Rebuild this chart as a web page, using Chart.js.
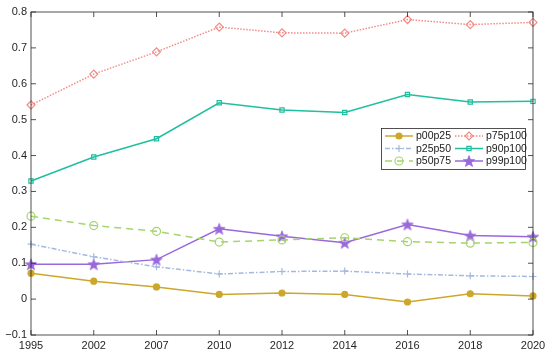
<!DOCTYPE html>
<html>
<head>
<meta charset="utf-8">
<script src="https://cdn.jsdelivr.net/npm/chart.js@4/dist/chart.umd.min.js"></script>
<style>
  body { margin: 0; background: #fff; }
  #wrap { width: 550px; height: 358px; }
</style>
</head>
<body>
<div id="wrap"><canvas id="myChart"></canvas></div>
<script>
var years = ["1995", "2002", "2007", "2010", "2012", "2014", "2016", "2018", "2020"];
var p00p25 = [0.072, 0.050, 0.034, 0.013, 0.017, 0.013, -0.008, 0.015, 0.009];
var p25p50 = [0.153, 0.118, 0.090, 0.070, 0.077, 0.078, 0.070, 0.065, 0.063];
var p50p75 = [0.231, 0.205, 0.189, 0.159, 0.165, 0.171, 0.160, 0.156, 0.158];
var p75p100 = [0.541, 0.627, 0.689, 0.758, 0.742, 0.741, 0.779, 0.765, 0.771];
var p90p100 = [0.329, 0.396, 0.447, 0.547, 0.527, 0.520, 0.570, 0.549, 0.551];
var p99p100 = [0.097, 0.097, 0.110, 0.196, 0.175, 0.157, 0.208, 0.177, 0.174];
var yTicks = [-0.1, 0, 0.1, 0.2, 0.3, 0.4, 0.5, 0.6, 0.7, 0.8];

var font = "'Liberation Sans', Arial, sans-serif";

// filled 5-point star used as a marker (Chart.js 'star' is an asterisk)
function makeStar(color, r) {
  var c = document.createElement('canvas');
  var s = Math.ceil(r * 2 + 2);
  c.width = s; c.height = s;
  var g = c.getContext('2d');
  g.fillStyle = color;
  g.strokeStyle = color;
  g.lineWidth = 0.8;
  g.beginPath();
  for (var i = 0; i < 10; i++) {
    var rr = i % 2 === 0 ? r : r * 0.42;
    var ang = -Math.PI / 2 + i * Math.PI / 5;
    var px = s / 2 + rr * Math.cos(ang), py = s / 2 + 0.6 + rr * Math.sin(ang);
    if (i === 0) g.moveTo(px, py); else g.lineTo(px, py);
  }
  g.closePath();
  g.fill();
  g.stroke();
  return c;
}

function series(label, data, color, style, dash, fill, radius) {
  return {
    label: label,
    data: data,
    borderColor: color,
    backgroundColor: fill ? color : 'rgba(255,255,255,0)',
    borderWidth: 1.5,
    borderDash: dash,
    pointStyle: style,
    pointRadius: radius,
    pointBorderColor: color,
    pointBackgroundColor: fill ? color : 'rgba(255,255,255,0)',
    pointBorderWidth: 1.2,
    tension: 0
  };
}

// box around plot, inward ticks, legend in the top right of the plot
var matlabBox = {
  id: 'matlabBox',
  afterDraw: function(chart) {
    var ctx = chart.ctx, a = chart.chartArea;
    var xs = chart.scales.x, ys = chart.scales.y;
    ctx.save();
    ctx.strokeStyle = '#262626';
    ctx.lineWidth = 0.8;
    ctx.strokeRect(a.left, a.top, a.right - a.left, a.bottom - a.top);
    ctx.beginPath();
    for (var i = 0; i < years.length; i++) {
      var x = xs.getPixelForValue(i);
      ctx.moveTo(x, a.bottom); ctx.lineTo(x, a.bottom - 5);
      ctx.moveTo(x, a.top); ctx.lineTo(x, a.top + 5);
    }
    yTicks.forEach(function(t) {
      var y = ys.getPixelForValue(t);
      ctx.moveTo(a.left, y); ctx.lineTo(a.left + 5, y);
      ctx.moveTo(a.right, y); ctx.lineTo(a.right - 5, y);
    });
    ctx.stroke();

    // legend
    var lx = 381, ly = 128, lw = 144, lh = 41;
    ctx.fillStyle = '#fff';
    ctx.fillRect(lx, ly, lw, lh);
    ctx.strokeStyle = '#262626';
    ctx.lineWidth = 0.8;
    ctx.strokeRect(lx + 0.5, ly + 0.5, lw, lh);
    ctx.font = '10.5px ' + font;
    ctx.textBaseline = 'middle';
    chart.data.datasets.forEach(function(ds, k) {
      var col = Math.floor(k / 3), row = k % 3;
      var x0 = lx + 4 + col * 70, y0 = ly + 8 + row * 12.5;
      ctx.save();
      ctx.strokeStyle = ds.borderColor;
      ctx.lineWidth = 1.5;
      ctx.setLineDash(ds.borderDash || []);
      ctx.beginPath();
      ctx.moveTo(x0, y0); ctx.lineTo(x0 + 28, y0);
      ctx.stroke();
      ctx.setLineDash([]);
      ctx.fillStyle = ds.pointBackgroundColor;
      ctx.lineWidth = 1.2;
      Chart.helpers.drawPoint(ctx, { pointStyle: ds.pointStyle, radius: ds.pointRadius, borderWidth: 1.2, rotation: 0 }, x0 + 14, y0);
      ctx.restore();
      ctx.fillStyle = '#1a1a1a';
      ctx.fillText(ds.label, x0 + 31, y0 + 0.5);
    });
    ctx.restore();
  }
};

var ctx = document.getElementById("myChart").getContext('2d');
var myChart = new Chart(ctx, {
  type: 'line',
  data: {
    labels: years,
    datasets: [
      series('p00p25', p00p25, '#cda72c', 'circle', [], true, 3),
      series('p25p50', p25p50, '#a3b9e0', 'cross', [5, 2, 1.5, 2], false, 3.5),
      series('p50p75', p50p75, '#a6d46e', 'circle', [7, 5], false, 4),
      series('p75p100', p75p100, '#f28b86', 'rectRot', [1.5, 1.5], false, 4),
      series('p90p100', p90p100, '#1fbf9f', 'rect', [], false, 3),
      series('p99p100', p99p100, '#9a68dd', makeStar('#9a68dd', 6), [], false, 5)
    ]
  },
  options: {
    responsive: true,
    maintainAspectRatio: false,
    animation: false,
    layout: { padding: { top: 12, right: 17, left: 0, bottom: 0 } },
    plugins: {
      legend: { display: false },
      tooltip: { enabled: false }
    },
    scales: {
      x: {
        offset: false,
        grid: { display: false, drawTicks: false },
        border: { display: false },
        ticks: { color: '#262626', font: { family: font, size: 11 }, maxRotation: 0, padding: 4 },
        afterFit: function(s) { s.height = 23; }
      },
      y: {
        min: -0.1,
        max: 0.8,
        grid: { display: false, drawTicks: false },
        border: { display: false },
        afterBuildTicks: function(s) { s.ticks = yTicks.map(function(v) { return { value: v }; }); },
        ticks: {
          color: '#262626',
          font: { family: font, size: 11 },
          padding: 4,
          callback: function(v) { return v < 0 ? '\u22120.1' : String(Math.round(v * 10) / 10); }
        },
        afterFit: function(s) { s.width = 31; }
      }
    }
  },
  plugins: [matlabBox]
});
</script>
</body>
</html>
